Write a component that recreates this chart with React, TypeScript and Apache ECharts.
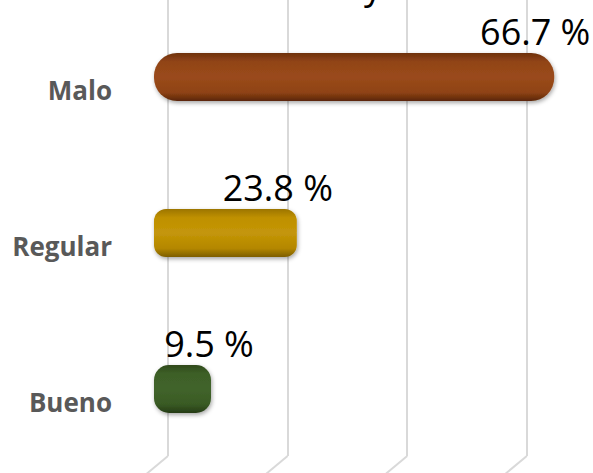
import React, { useEffect, useRef } from "react";
import * as echarts from "echarts";

const categories: string[] = ["Malo", "Regular", "Bueno"];
const values: number[] = [66.7, 23.8, 9.5];
const xTicks: number[] = [0, 20, 40, 60, 80];

const barColors = [
  ["#6e310c", "#914417", "#9a4a1b", "#8f4315", "#5a2607"],
  ["#9c7500", "#bf9003", "#c49608", "#b48700", "#7d5e00"],
  ["#2f4a1c", "#3d5f27", "#41642b", "#395a24", "#253b16"],
];
const radii = [23, 12, 15];
const labelOffsets = [[-19, -4], [-19, -4], [-2, -4]];

function grad(c: string[]) {
  return new echarts.graphic.LinearGradient(0, 0, 0, 1, [
    { offset: 0, color: c[0] },
    { offset: 0.18, color: c[1] },
    { offset: 0.5, color: c[2] },
    { offset: 0.82, color: c[3] },
    { offset: 1, color: c[4] },
  ]);
}

export default function App() {
  const ref = useRef<HTMLDivElement>(null);
  useEffect(() => {
    document.body.style.margin = "0";
    const chart = echarts.init(ref.current!, null, { renderer: "svg" });
    const option: any = {
      animation: false,
      backgroundColor: "#ffffff",
      grid: [
        { left: 168, top: 0, width: 478.4, height: 456, outerBoundsMode: "none", containLabel: false },
        { left: 154, top: -1, width: 480, height: 468, outerBoundsMode: "none", containLabel: false },
      ],
      xAxis: [
        {
          gridIndex: 0,
          type: "value",
          min: xTicks[0],
          max: xTicks[xTicks.length - 1],
          interval: 20,
          axisLine: { show: false },
          axisTick: { show: false },
          axisLabel: { show: false },
          splitLine: { show: true, lineStyle: { color: "#d9d9d9", width: 2 } },
        },
        {
          gridIndex: 1,
          type: "value",
          min: xTicks[0],
          max: xTicks[xTicks.length - 1],
          show: false,
          splitLine: { show: false },
        },
      ],
      yAxis: [
        {
          gridIndex: 0,
          type: "category",
          data: categories,
          show: false,
        },
        {
          gridIndex: 1,
          type: "category",
          data: categories,
          inverse: true,
          axisLine: { show: false },
          axisTick: { show: false },
          splitLine: { show: false },
          axisLabel: {
            margin: 42,
            color: "#595959",
            fontFamily: "Open Sans",
            fontWeight: "bold",
            fontSize: 26,
            lineHeight: 26,
            verticalAlign: "top",
          },
        },
      ],
      series: [
        {
          type: "bar",
          xAxisIndex: 1,
          yAxisIndex: 1,
          barWidth: 48,
          data: values.map((v, i) => ({
            value: v,
            itemStyle: {
              color: grad(barColors[i]),
              borderRadius: radii[i],
              shadowColor: "rgba(0,0,0,0.35)",
              shadowBlur: 4,
              shadowOffsetY: 2,
              shadowOffsetX: 1,
            },
            label: {
              show: true,
              position: ["100%", 0],
              align: "center",
              verticalAlign: "bottom",
              offset: labelOffsets[i],
              formatter: (p: any) => `${p.value.toFixed(1)} %`,
              color: "#000000",
              fontFamily: "Open Sans",
              fontSize: 36,
            },
          })),
        },
      ],
      graphic: [
        {
          type: "text",
          x: 364,
          y: 3,
          style: {
            text: "y",
            font: "36px 'Open Sans'",
            fill: "#000000",
            textVerticalAlign: "bottom",
          },
        },
      ],
    };
    chart.setOption(option);
    // floor lines of the 3D back wall
    const floorLines: any[] = xTicks.map((t) => {
      const px = chart.convertToPixel({ xAxisIndex: 0 } as any, t) as number;
      return {
        type: "line",
        shape: { x1: px, y1: 456, x2: px - 24, y2: 476 },
        style: { stroke: "#d9d9d9", lineWidth: 2 },
        silent: true,
        z: -1,
      };
    });
    chart.setOption({ graphic: [...option.graphic, ...floorLines] }, { replaceMerge: ["graphic"] } as any);
    return () => chart.dispose();
  }, []);
  return <div ref={ref} style={{ width: 593, height: 473 }} />;
}
